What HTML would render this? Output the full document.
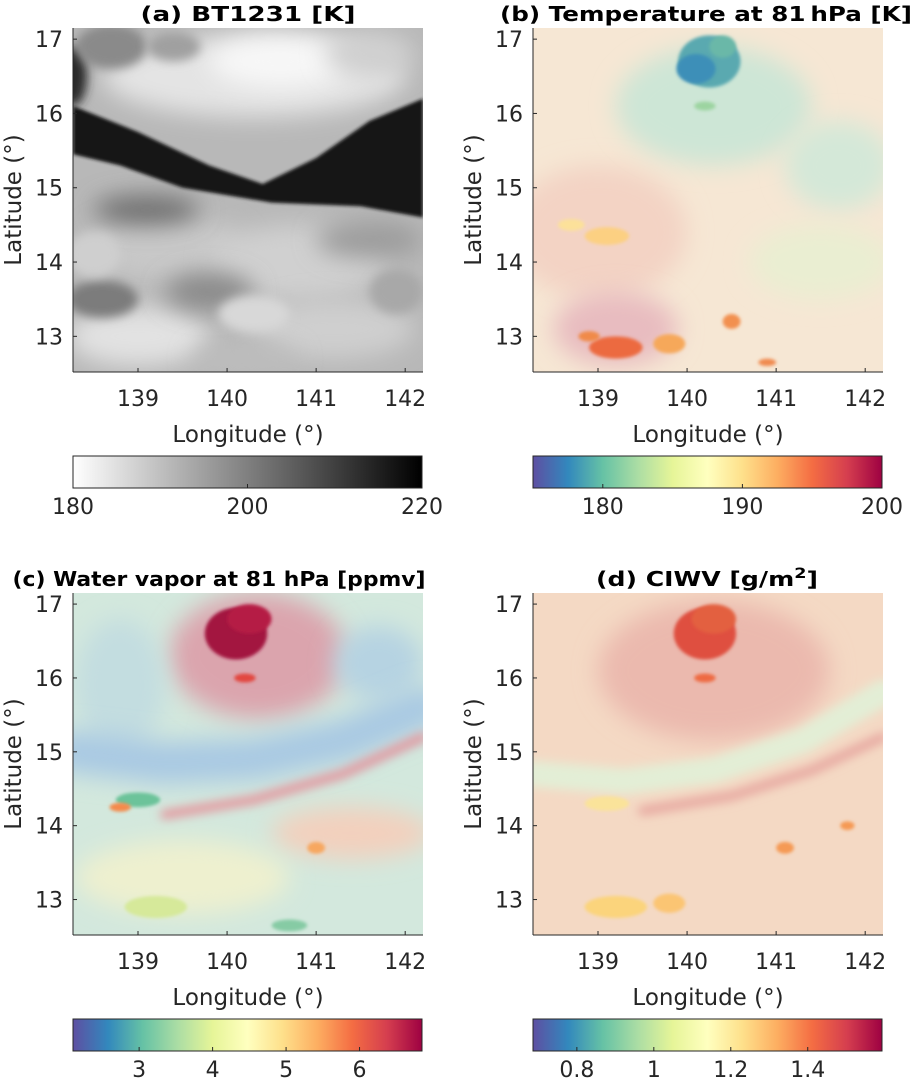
<!DOCTYPE html>
<html><head><meta charset="utf-8"><style>
body{margin:0;background:#fff;width:916px;height:1089px;overflow:hidden}
svg{display:block}
text{font-family:"DejaVu Sans","Liberation Sans",sans-serif;fill:#262626}
.title{font-weight:bold;fill:#000;font-size:20px}
</style></head><body>
<svg id="fig" width="916" height="1089" viewBox="0 0 916 1089">
<defs>
<filter id="b2" filterUnits="userSpaceOnUse" x="0" y="0" width="916" height="1089"><feGaussianBlur stdDeviation="1.5"/></filter>
<filter id="b5" filterUnits="userSpaceOnUse" x="0" y="0" width="916" height="1089"><feGaussianBlur stdDeviation="5"/></filter>
<filter id="b12" filterUnits="userSpaceOnUse" x="0" y="0" width="916" height="1089"><feGaussianBlur stdDeviation="12"/></filter>
<linearGradient id="gGray" x1="0" x2="1" y1="0" y2="0"><stop offset="0" stop-color="#fff"/><stop offset="1" stop-color="#000"/></linearGradient>
<linearGradient id="gSpec" x1="0" x2="1" y1="0" y2="0">
<stop offset="0" stop-color="#5e4fa2"/><stop offset="0.1" stop-color="#3288bd"/><stop offset="0.2" stop-color="#66c2a5"/><stop offset="0.3" stop-color="#abdda4"/><stop offset="0.4" stop-color="#e6f598"/><stop offset="0.5" stop-color="#ffffbf"/><stop offset="0.6" stop-color="#fee08b"/><stop offset="0.7" stop-color="#fdae61"/><stop offset="0.8" stop-color="#f46d43"/><stop offset="0.9" stop-color="#d53e4f"/><stop offset="1" stop-color="#9e0142"/></linearGradient>
</defs>
</svg>
<script>
// axis data
const lonTicks=[139,140,141,142];
const latTicks=[13,14,15,16,17];
const lonRange=[138.27,142.2];
const latRange=[12.52,17.15];
const titles=["(a) BT1231 [K]","(b) Temperature at 81\u2009hPa [K]","(c) Water vapor at 81 hPa [ppmv]","(d) CIWV [g/m"];
const cbRangeA=[180,220]; const cbTicksA=[180,200,220];
const cbRangeB=[175,200]; const cbTicksB=[180,190,200];
const cbRangeC=[2.1,6.85]; const cbTicksC=[3,4,5,6];
const cbRangeD=[0.686,1.593]; const cbTicksD=[0.8,1,1.2,1.4];

// field blobs per panel: lon, lat, rlon, rlat, color
const blobA=[[140.3,16.5,1.7,0.55,"#e4e4e4"],[140.6,16.7,0.8,0.35,"#f7f7f7"],[141.6,16.8,0.5,0.3,"#d0d0d0"],[138.7,16.9,0.4,0.3,"#8a8a8a"],[139.4,16.9,0.3,0.2,"#a0a0a0"],
[139.3,14.2,0.9,0.45,"#c8c8c8"],[140.8,14.0,1.0,0.5,"#d0d0d0"],[139.0,13.0,0.8,0.4,"#e2e2e2"],[141.2,13.1,0.9,0.4,"#cfcfcf"],[140.3,13.3,0.4,0.25,"#d8d8d8"],
[139.8,13.6,0.5,0.25,"#8a8a8a"],[138.6,13.5,0.4,0.25,"#7c7c7c"],[141.6,14.3,0.6,0.25,"#9c9c9c"],[140.2,12.7,0.6,0.2,"#bdbdbd"],[139.1,14.7,0.6,0.2,"#6e6e6e"],[141.9,13.6,0.3,0.3,"#a8a8a8"],[138.5,14.1,0.3,0.3,"#cfcfcf"]];
const blobB=[[139.0,14.4,1.0,0.9,"#f3d3c4"],[139.2,13.1,0.7,0.5,"#e8bcc0"],[140.3,16.1,1.1,0.8,"#cde6d6"],[141.7,15.3,0.6,0.6,"#d4e8d8"],[141.5,14.0,0.8,0.5,"#eaeed2"],
[140.25,16.7,0.35,0.35,"#5aa9b0"],[140.1,16.6,0.22,0.2,"#3c8fb8"],[140.4,16.9,0.15,0.15,"#6ab8a8"],[139.1,14.35,0.25,0.12,"#fcd082"],[138.7,14.5,0.15,0.08,"#fce19a"],
[139.2,12.85,0.3,0.15,"#ec6a40"],[138.9,13.0,0.12,0.07,"#f08a48"],[139.8,12.9,0.18,0.13,"#f6a85a"],[140.5,13.2,0.1,0.1,"#f29050"],[140.9,12.65,0.1,0.05,"#f08a50"],[140.2,16.1,0.12,0.06,"#9cd4a0"]];
const blobC=[[140.35,16.3,1.0,0.85,"#dba4ad"],[140.1,16.6,0.35,0.35,"#a3123f"],[140.25,16.8,0.25,0.2,"#b51c45"],[141.7,16.2,0.5,0.5,"#b6d3e2"],
[138.8,15.9,0.5,0.9,"#c3dde0"],[141.4,13.9,0.9,0.35,"#f3d0bd"],[139.5,13.3,1.2,0.5,"#eef0cf"],[139.2,12.9,0.35,0.15,"#d6e99a"],[140.7,12.65,0.2,0.08,"#86cba4"],[139.0,14.35,0.25,0.1,"#6cc39a"],[138.8,14.25,0.12,0.06,"#f48a4c"],[140.2,16.0,0.12,0.06,"#e2463f"],[141.0,13.7,0.1,0.08,"#f7a760"]];
const blobD=[[140.3,16.1,1.3,0.95,"#ebb9ae"],[140.2,16.6,0.35,0.35,"#df503f"],[140.3,16.8,0.25,0.2,"#e3603f"],
[139.2,12.9,0.35,0.15,"#fbd47c"],[139.8,12.95,0.18,0.13,"#fbc573"],[141.1,13.7,0.1,0.08,"#f59a55"],[139.1,14.3,0.25,0.1,"#fae39a"],[140.2,16.0,0.12,0.06,"#ee6a42"],[141.8,14.0,0.08,0.06,"#f59a55"]];
const bgColors=["#b8b8b8","#f6e7d4","#d3e8dd","#f4d9c4"];
const bandA=[[138.27,16.1],[139,15.75],[139.8,15.3],[140.4,15.05],[141,15.4],[141.6,15.9],[142.2,16.2],[142.2,14.6],[141.5,14.75],[140.5,14.8],[139.5,15.0],[138.8,15.3],[138.27,15.45]];
// arc features: lon/lat point lists
const arcC1=[[138.27,15.0],[139.3,14.85],[140.3,14.9],[141.3,15.15],[142.2,15.6]];
const arcC2=[[139.3,14.15],[140.3,14.35],[141.3,14.7],[142.2,15.2]];
const arcD1=[[138.27,14.7],[139.3,14.6],[140.3,14.75],[141.3,15.15],[142.2,15.8]];
const arcD2=[[139.5,14.2],[140.5,14.4],[141.4,14.75],[142.2,15.2]];
const arcsByPanel=[[],[],[[arcC1,42,"#a9c9e3","b12"],[arcC2,9,"#e4949c","b5"]],[[arcD1,26,"#e3eed6","b5"],[arcD2,9,"#e6a49e","b5"]]];

const NS="http://www.w3.org/2000/svg";
const svg=document.getElementById("fig");
function el(tag,attrs,parent){const e=document.createElementNS(NS,tag);for(const k in attrs)e.setAttribute(k,attrs[k]);(parent||svg).appendChild(e);return e;}

const panels=[
 {L:73,T:28,W:350,H:344,blobs:blobA,cbG:"gGray",cbR:cbRangeA,cbT:cbTicksA,cbY:456,cx:248,tl:215},
 {L:533,T:28,W:350,H:344,blobs:blobB,cbG:"gSpec",cbR:cbRangeB,cbT:cbTicksB,cbY:456,cx:706,tl:412},
 {L:73,T:593,W:350,H:342,blobs:blobC,cbG:"gSpec",cbR:cbRangeC,cbT:cbTicksC,cbY:1019,cx:219,tl:413},
 {L:533,T:593,W:350,H:342,blobs:blobD,cbG:"gSpec",cbR:cbRangeD,cbT:cbTicksD,cbY:1019,cx:707,tl:222}];

panels.forEach((p,i)=>{
 const xs=lon=>p.L+(lon-lonRange[0])/(lonRange[1]-lonRange[0])*p.W;
 const ys=lat=>p.T+(latRange[1]-lat)/(latRange[1]-latRange[0])*p.H;
 const g=el("g",{});
 
 
 const cp=el("clipPath",{id:"cp"+i},g);
 el("rect",{x:p.L,y:p.T,width:p.W,height:p.H},cp);
 const field=el("g",{"clip-path":"url(#cp"+i+")"},g);
 const bg=el("rect",{x:p.L-20,y:p.T-20,width:p.W+40,height:p.H+40,fill:bgColors[i]},field);
 
 
 const big=p.blobs.filter(b=>b[2]>=0.5), small=p.blobs.filter(b=>b[2]<0.5);
 const drawBlob=b=>{
  const sm=b[2]<0.5;
  const e=el("ellipse",{cx:xs(b[0]),cy:ys(b[1]),rx:b[2]/(lonRange[1]-lonRange[0])*p.W,ry:b[3]/(latRange[1]-latRange[0])*p.H,fill:b[4],filter:sm?(i===0?"url(#b5)":"url(#b2)"):"url(#b12)"},field);
  
  
 };
 big.forEach(drawBlob);
 arcsByPanel[i].forEach(a=>{
  const d=a[0].map((q,k)=>(k?"L":"M")+xs(q[0]).toFixed(1)+","+ys(q[1]).toFixed(1)).join("");
  const pa=el("path",{d:d,fill:"none",stroke:a[2],"stroke-width":a[1],"stroke-linecap":"round","stroke-linejoin":"round",filter:"url(#"+a[3]+")"},field);
  
  
 });
 if(i===0){
  const d=bandA.map((q,k)=>(k?"L":"M")+xs(q[0]).toFixed(1)+","+ys(q[1]).toFixed(1)).join("")+"Z";
  const band=el("path",{d:d,fill:"#141414",filter:"url(#b2)"},field);
  
  
  const strip=el("ellipse",{cx:xs(138.27),cy:ys(16.5),rx:14,ry:ys(16.1)-ys(16.5),fill:"#2a2a2a",filter:"url(#b5)"},field);
  
  
 }
 small.forEach(drawBlob);
 // axes lines
 el("line",{x1:p.L,y1:p.T+p.H,x2:p.L+p.W,y2:p.T+p.H,stroke:"#262626","stroke-width":1},g);
 el("line",{x1:p.L,y1:p.T,x2:p.L,y2:p.T+p.H,stroke:"#262626","stroke-width":1},g);
 lonTicks.forEach(v=>{
  el("line",{x1:xs(v),x2:xs(v),y1:p.T+p.H,y2:p.T+p.H-4,stroke:"#262626"},g);
  const t=el("text",{x:xs(v),y:p.T+p.H+34,"text-anchor":"middle","font-size":"22"},g);
  t.textContent=v;
  
  
 });
 latTicks.forEach(v=>{
  el("line",{x1:p.L,x2:p.L+4,y1:ys(v),y2:ys(v),stroke:"#262626"},g);
  const t=el("text",{x:p.L-10,y:ys(v)+8,"text-anchor":"end","font-size":"22"},g);
  t.textContent=v;
  
  
 });
 const xl=el("text",{x:p.L+p.W/2,y:p.T+p.H+70,"text-anchor":"middle","font-size":"23"},g);
 xl.textContent="Longitude (\u00B0)";
 
 
 const yl=el("text",{x:0,y:0,"text-anchor":"middle","font-size":"23",transform:"translate("+(p.L-52)+","+(p.T+p.H/2)+") rotate(-90)"},g);
 yl.textContent="Latitude (\u00B0)";
 
 
 const tt=el("text",{x:p.cx,y:p.T-7,"text-anchor":"middle",class:"title",textLength:p.tl,lengthAdjust:"spacingAndGlyphs"},g);
 tt.textContent=titles[i];
 if(i===3){const s=el("tspan",{dy:"-8","font-size":"14"},tt);s.textContent="2";const s2=el("tspan",{dy:"8"},tt);s2.textContent="]";}
 
 
 // colorbar
 const cx=v=>p.L+(v-p.cbR[0])/(p.cbR[1]-p.cbR[0])*349;
 const cb=el("rect",{x:p.L,y:p.cbY,width:349,height:32,fill:"url(#"+p.cbG+")",stroke:"#262626","stroke-width":1},g);
 
 
 p.cbT.forEach(v=>{
  el("line",{x1:cx(v),x2:cx(v),y1:p.cbY+32,y2:p.cbY+28,stroke:"#262626"},g);
  const t=el("text",{x:cx(v),y:p.cbY+58,"text-anchor":"middle","font-size":"22"},g);
  t.textContent=v;
  
  
 });
});
</script>
</body></html>
